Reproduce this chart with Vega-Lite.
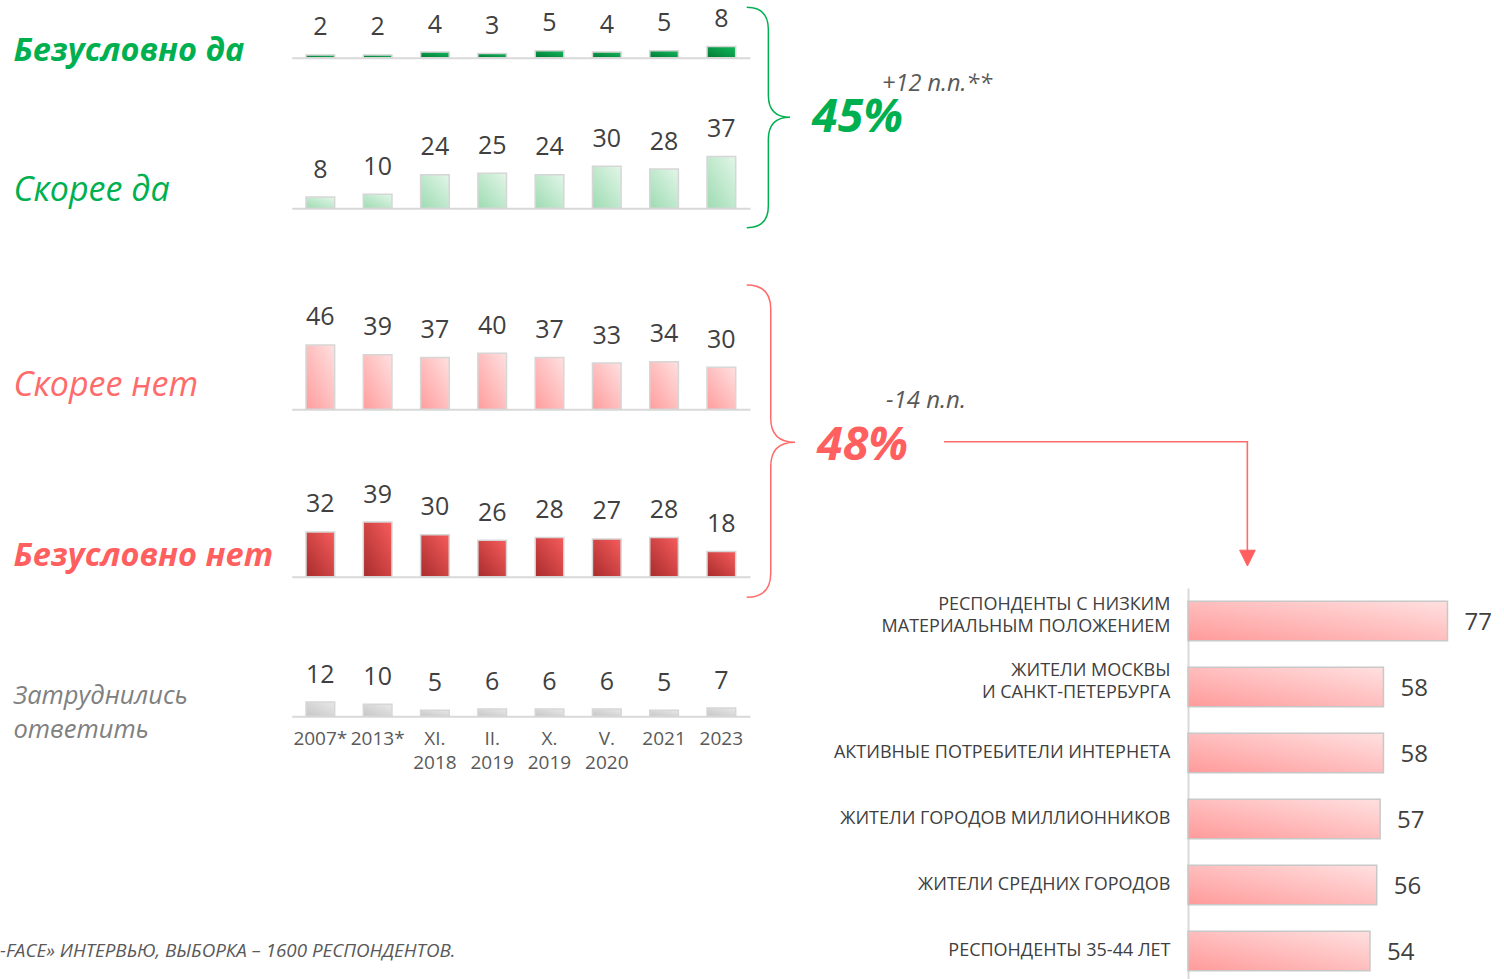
{
  "$schema": "https://vega.github.io/schema/vega-lite/v6.json",
  "width": 1504,
  "height": 979,
  "autosize": {"type": "none"},
  "padding": 0,
  "background": "white",
  "config": {"view": {"stroke": null}, "font": "Open Sans"},
  "title": {"text": "-FACE» ИНТЕРВЬЮ, ВЫБОРКА – 1600 РЕСПОНДЕНТОВ.", "orient": "bottom", "anchor": "start", "frame": "group", "offset": -22, "baseline": "alphabetic", "font": "Open Sans", "fontSize": 18.8, "fontStyle": "italic", "fontWeight": "normal", "color": "#595959"},
  "datasets": {
    "survey": [
      {"answer": "Безусловно да", "period": "2007*", "value": 2},
      {"answer": "Безусловно да", "period": "2013*", "value": 2},
      {"answer": "Безусловно да", "period": "XI. 2018", "value": 4},
      {"answer": "Безусловно да", "period": "II. 2019", "value": 3},
      {"answer": "Безусловно да", "period": "X. 2019", "value": 5},
      {"answer": "Безусловно да", "period": "V. 2020", "value": 4},
      {"answer": "Безусловно да", "period": "2021", "value": 5},
      {"answer": "Безусловно да", "period": "2023", "value": 8},
      {"answer": "Скорее да", "period": "2007*", "value": 8},
      {"answer": "Скорее да", "period": "2013*", "value": 10},
      {"answer": "Скорее да", "period": "XI. 2018", "value": 24},
      {"answer": "Скорее да", "period": "II. 2019", "value": 25},
      {"answer": "Скорее да", "period": "X. 2019", "value": 24},
      {"answer": "Скорее да", "period": "V. 2020", "value": 30},
      {"answer": "Скорее да", "period": "2021", "value": 28},
      {"answer": "Скорее да", "period": "2023", "value": 37},
      {"answer": "Скорее нет", "period": "2007*", "value": 46},
      {"answer": "Скорее нет", "period": "2013*", "value": 39},
      {"answer": "Скорее нет", "period": "XI. 2018", "value": 37},
      {"answer": "Скорее нет", "period": "II. 2019", "value": 40},
      {"answer": "Скорее нет", "period": "X. 2019", "value": 37},
      {"answer": "Скорее нет", "period": "V. 2020", "value": 33},
      {"answer": "Скорее нет", "period": "2021", "value": 34},
      {"answer": "Скорее нет", "period": "2023", "value": 30},
      {"answer": "Безусловно нет", "period": "2007*", "value": 32},
      {"answer": "Безусловно нет", "period": "2013*", "value": 39},
      {"answer": "Безусловно нет", "period": "XI. 2018", "value": 30},
      {"answer": "Безусловно нет", "period": "II. 2019", "value": 26},
      {"answer": "Безусловно нет", "period": "X. 2019", "value": 28},
      {"answer": "Безусловно нет", "period": "V. 2020", "value": 27},
      {"answer": "Безусловно нет", "period": "2021", "value": 28},
      {"answer": "Безусловно нет", "period": "2023", "value": 18},
      {"answer": "Затруднились ответить", "period": "2007*", "value": 12},
      {"answer": "Затруднились ответить", "period": "2013*", "value": 10},
      {"answer": "Затруднились ответить", "period": "XI. 2018", "value": 5},
      {"answer": "Затруднились ответить", "period": "II. 2019", "value": 6},
      {"answer": "Затруднились ответить", "period": "X. 2019", "value": 6},
      {"answer": "Затруднились ответить", "period": "V. 2020", "value": 6},
      {"answer": "Затруднились ответить", "period": "2021", "value": 5},
      {"answer": "Затруднились ответить", "period": "2023", "value": 7}
    ],
    "totals": [
      {"group": "Да", "total": "45%", "change": "+12 п.п.**"},
      {"group": "Нет", "total": "48%", "change": "-14 п.п."}
    ],
    "groups": [
      {"group": "Респонденты с низким\nматериальным положением", "share": 77},
      {"group": "Жители Москвы\nи Санкт-Петербурга", "share": 58},
      {"group": "Активные потребители интернета", "share": 58},
      {"group": "Жители городов миллионников", "share": 57},
      {"group": "Жители средних городов", "share": 56},
      {"group": "Респонденты 35-44 лет", "share": 54}
    ]
  },
  "resolve": {"scale": {"x": "independent", "y": "independent"}, "axis": {"x": "independent", "y": "independent"}},
  "layer": [
    {
      "layer": [
        {"data": {"name": "survey"}, "transform": [{"filter": "datum.answer === 'Безусловно да'"}],
         "mark": {"type": "bar", "fill": {"gradient": "linear", "x1": 1, "y1": 0, "x2": 0, "y2": 1, "stops": [{"offset": 0, "color": "#14b85c"}, {"offset": 1, "color": "#007a35"}]}, "stroke": "#d6d6d6", "strokeWidth": 1.5},
         "encoding": {
           "x": {"field": "period", "type": "ordinal", "scale": {"domain": ["2007*", "2013*", "XI. 2018", "II. 2019", "X. 2019", "V. 2020", "2021", "2023"], "range": [291.7, 750], "paddingInner": 0.5, "paddingOuter": 0.25},
             "axis": {"orient": "bottom", "offset": -921.3, "labels": false, "ticks": false, "tickSize": 0, "grid": false, "title": null, "domainColor": "#d9d9d9", "domainWidth": 2}},
           "y": {"field": "value", "type": "quantitative", "scale": {"domain": [0, 50], "range": [57.7, -12.3], "nice": false, "zero": true},
             "axis": {"orient": "left", "domain": false, "ticks": false, "labels": false, "grid": false, "title": "Безусловно да", "titleAngle": 0, "titleAlign": "left", "titleBaseline": "alphabetic", "titleX": 13, "titleY": 60, "titleFont": "Open Sans", "titleFontSize": 32.5, "titleFontWeight": "bold", "titleFontStyle": "italic", "titleColor": "#00b050"}}
         }},
        {"data": {"name": "survey"}, "transform": [{"filter": "datum.answer === 'Безусловно да'"}],
         "mark": {"type": "text", "dy": -19.5, "baseline": "alphabetic", "fontSize": 25, "font": "Open Sans", "fill": "#404040"},
         "encoding": {"x": {"field": "period", "type": "ordinal"}, "y": {"field": "value", "type": "quantitative"}, "text": {"field": "value", "type": "quantitative"}}}
      ]
    },
    {
      "layer": [
        {"data": {"name": "survey"}, "transform": [{"filter": "datum.answer === 'Скорее да'"}],
         "mark": {"type": "bar", "fill": {"gradient": "linear", "x1": 1, "y1": 0, "x2": 0, "y2": 1, "stops": [{"offset": 0, "color": "#e2f6e8"}, {"offset": 1, "color": "#9edbb2"}]}, "stroke": "#d6d6d6", "strokeWidth": 1.5},
         "encoding": {
           "x": {"field": "period", "type": "ordinal", "scale": {"domain": ["2007*", "2013*", "XI. 2018", "II. 2019", "X. 2019", "V. 2020", "2021", "2023"], "range": [291.7, 750], "paddingInner": 0.5, "paddingOuter": 0.25},
             "axis": {"orient": "bottom", "offset": -770.7, "labels": false, "ticks": false, "tickSize": 0, "grid": false, "title": null, "domainColor": "#d9d9d9", "domainWidth": 2}},
           "y": {"field": "value", "type": "quantitative", "scale": {"domain": [0, 50], "range": [208.3, 138.3], "nice": false, "zero": true},
             "axis": {"orient": "left", "domain": false, "ticks": false, "labels": false, "grid": false, "title": "Скорее да", "titleAngle": 0, "titleAlign": "left", "titleBaseline": "alphabetic", "titleX": 13, "titleY": 200, "titleFont": "Open Sans", "titleFontSize": 34, "titleFontWeight": "normal", "titleFontStyle": "italic", "titleColor": "#00b050"}}
         }},
        {"data": {"name": "survey"}, "transform": [{"filter": "datum.answer === 'Скорее да'"}],
         "mark": {"type": "text", "dy": -19.5, "baseline": "alphabetic", "fontSize": 25, "font": "Open Sans", "fill": "#404040"},
         "encoding": {"x": {"field": "period", "type": "ordinal"}, "y": {"field": "value", "type": "quantitative"}, "text": {"field": "value", "type": "quantitative"}}},
        {"data": {"name": "totals"}, "transform": [{"filter": "datum.group === 'Да'"}],
         "mark": {"type": "point", "shape": "M25.4,-201 Q47,-201 47,-179 L47,-113 Q47,-91 68.7,-91 Q47,-91 47,-69 L47,-2.6 Q47,19.4 25.4,19.4", "size": 4, "filled": false, "stroke": "#00b050", "strokeWidth": 1.5, "opacity": 1},
         "encoding": {"x": {"datum": "2023", "type": "ordinal"}, "y": {"datum": 0, "type": "quantitative"}}},
        {"data": {"name": "totals"}, "transform": [{"filter": "datum.group === 'Да'"}],
         "mark": {"type": "text", "align": "left", "baseline": "alphabetic", "dx": 90.7, "dy": -76.3, "fontSize": 46.5, "fontWeight": "bold", "fontStyle": "italic", "font": "Open Sans", "fill": "#00b050"},
         "encoding": {"x": {"datum": "2023", "type": "ordinal"}, "y": {"datum": 0, "type": "quantitative"}, "text": {"field": "total", "type": "nominal"}}},
        {"data": {"name": "totals"}, "transform": [{"filter": "datum.group === 'Да'"}],
         "mark": {"type": "text", "align": "left", "baseline": "alphabetic", "dx": 160.7, "dy": -117.6, "fontSize": 23.5, "fontStyle": "italic", "font": "Open Sans", "fill": "#595959"},
         "encoding": {"x": {"datum": "2023", "type": "ordinal"}, "y": {"datum": 0, "type": "quantitative"}, "text": {"field": "change", "type": "nominal"}}}
      ]
    },
    {
      "layer": [
        {"data": {"name": "survey"}, "transform": [{"filter": "datum.answer === 'Скорее нет'"}],
         "mark": {"type": "bar", "fill": {"gradient": "linear", "x1": 1, "y1": 0, "x2": 0, "y2": 1, "stops": [{"offset": 0, "color": "#ffe0e0"}, {"offset": 1, "color": "#ff9d9d"}]}, "stroke": "#d6d6d6", "strokeWidth": 1.5},
         "encoding": {
           "x": {"field": "period", "type": "ordinal", "scale": {"domain": ["2007*", "2013*", "XI. 2018", "II. 2019", "X. 2019", "V. 2020", "2021", "2023"], "range": [291.7, 750], "paddingInner": 0.5, "paddingOuter": 0.25},
             "axis": {"orient": "bottom", "offset": -569.7, "labels": false, "ticks": false, "tickSize": 0, "grid": false, "title": null, "domainColor": "#d9d9d9", "domainWidth": 2}},
           "y": {"field": "value", "type": "quantitative", "scale": {"domain": [0, 50], "range": [409.3, 339.3], "nice": false, "zero": true},
             "axis": {"orient": "left", "domain": false, "ticks": false, "labels": false, "grid": false, "title": "Скорее нет", "titleAngle": 0, "titleAlign": "left", "titleBaseline": "alphabetic", "titleX": 13, "titleY": 395, "titleFont": "Open Sans", "titleFontSize": 34, "titleFontWeight": "normal", "titleFontStyle": "italic", "titleColor": "#ff6b6b"}}
         }},
        {"data": {"name": "survey"}, "transform": [{"filter": "datum.answer === 'Скорее нет'"}],
         "mark": {"type": "text", "dy": -19.5, "baseline": "alphabetic", "fontSize": 25, "font": "Open Sans", "fill": "#404040"},
         "encoding": {"x": {"field": "period", "type": "ordinal"}, "y": {"field": "value", "type": "quantitative"}, "text": {"field": "value", "type": "quantitative"}}}
      ]
    },
    {
      "layer": [
        {"data": {"name": "survey"}, "transform": [{"filter": "datum.answer === 'Безусловно нет'"}],
         "mark": {"type": "bar", "fill": {"gradient": "linear", "x1": 1, "y1": 0, "x2": 0, "y2": 1, "stops": [{"offset": 0, "color": "#f75c5c"}, {"offset": 1, "color": "#a82c2c"}]}, "stroke": "#d6d6d6", "strokeWidth": 1.5},
         "encoding": {
           "x": {"field": "period", "type": "ordinal", "scale": {"domain": ["2007*", "2013*", "XI. 2018", "II. 2019", "X. 2019", "V. 2020", "2021", "2023"], "range": [291.7, 750], "paddingInner": 0.5, "paddingOuter": 0.25},
             "axis": {"orient": "bottom", "offset": -402.3, "labels": false, "ticks": false, "tickSize": 0, "grid": false, "title": null, "domainColor": "#d9d9d9", "domainWidth": 2}},
           "y": {"field": "value", "type": "quantitative", "scale": {"domain": [0, 50], "range": [576.7, 506.7], "nice": false, "zero": true},
             "axis": {"orient": "left", "domain": false, "ticks": false, "labels": false, "grid": false, "title": "Безусловно нет", "titleAngle": 0, "titleAlign": "left", "titleBaseline": "alphabetic", "titleX": 13, "titleY": 565, "titleFont": "Open Sans", "titleFontSize": 32.5, "titleFontWeight": "bold", "titleFontStyle": "italic", "titleColor": "#ff5f5f"}}
         }},
        {"data": {"name": "survey"}, "transform": [{"filter": "datum.answer === 'Безусловно нет'"}],
         "mark": {"type": "text", "dy": -19.5, "baseline": "alphabetic", "fontSize": 25, "font": "Open Sans", "fill": "#404040"},
         "encoding": {"x": {"field": "period", "type": "ordinal"}, "y": {"field": "value", "type": "quantitative"}, "text": {"field": "value", "type": "quantitative"}}},
        {"data": {"name": "totals"}, "transform": [{"filter": "datum.group === 'Нет'"}],
         "mark": {"type": "point", "shape": "M25.4,-291.7 Q49.4,-291.7 49.4,-267.7 L49.4,-158.4 Q49.4,-134.4 73.7,-134.4 Q49.4,-134.4 49.4,-110.4 L49.4,-3.4 Q49.4,20.6 25.4,20.6", "size": 4, "filled": false, "stroke": "#ff6b6b", "strokeWidth": 1.5, "opacity": 1},
         "encoding": {"x": {"datum": "2023", "type": "ordinal"}, "y": {"datum": 0, "type": "quantitative"}}},
        {"data": {"name": "totals"}, "transform": [{"filter": "datum.group === 'Нет'"}],
         "mark": {"type": "point", "shape": "M222.7,-135 L526,-135 L526,-26", "size": 4, "filled": false, "stroke": "#ff6b6b", "strokeWidth": 1.6, "opacity": 1},
         "encoding": {"x": {"datum": "2023", "type": "ordinal"}, "y": {"datum": 0, "type": "quantitative"}}},
        {"data": {"name": "totals"}, "transform": [{"filter": "datum.group === 'Нет'"}],
         "mark": {"type": "point", "shape": "M518.3,-26.5 L533.9,-26.5 L526.1,-10.7 Z", "size": 4, "filled": true, "fill": "#ff5f5f", "stroke": "#ff5f5f", "strokeWidth": 1, "opacity": 1},
         "encoding": {"x": {"datum": "2023", "type": "ordinal"}, "y": {"datum": 0, "type": "quantitative"}}},
        {"data": {"name": "totals"}, "transform": [{"filter": "datum.group === 'Нет'"}],
         "mark": {"type": "text", "align": "left", "baseline": "alphabetic", "dx": 95.7, "dy": -116.7, "fontSize": 46.5, "fontWeight": "bold", "fontStyle": "italic", "font": "Open Sans", "fill": "#ff5f5f"},
         "encoding": {"x": {"datum": "2023", "type": "ordinal"}, "y": {"datum": 0, "type": "quantitative"}, "text": {"field": "total", "type": "nominal"}}},
        {"data": {"name": "totals"}, "transform": [{"filter": "datum.group === 'Нет'"}],
         "mark": {"type": "text", "align": "left", "baseline": "alphabetic", "dx": 164.7, "dy": -168.4, "fontSize": 24, "fontStyle": "italic", "font": "Open Sans", "fill": "#595959"},
         "encoding": {"x": {"datum": "2023", "type": "ordinal"}, "y": {"datum": 0, "type": "quantitative"}, "text": {"field": "change", "type": "nominal"}}}
      ]
    },
    {
      "layer": [
        {"data": {"name": "survey"}, "transform": [{"filter": "datum.answer === 'Затруднились ответить'"}],
         "mark": {"type": "bar", "fill": {"gradient": "linear", "x1": 1, "y1": 0, "x2": 0, "y2": 1, "stops": [{"offset": 0, "color": "#e8e8e8"}, {"offset": 1, "color": "#c6c6c6"}]}, "stroke": "#d6d6d6", "strokeWidth": 1.5},
         "encoding": {
           "x": {"field": "period", "type": "ordinal", "scale": {"domain": ["2007*", "2013*", "XI. 2018", "II. 2019", "X. 2019", "V. 2020", "2021", "2023"], "range": [291.7, 750], "paddingInner": 0.5, "paddingOuter": 0.25},
             "axis": {"orient": "bottom", "offset": -262.7, "ticks": false, "tickSize": 0, "grid": false, "title": null, "domainColor": "#d9d9d9", "domainWidth": 2, "labelAngle": 0, "labelPadding": 13, "labelBaseline": "top", "labelOverlap": false, "labelExpr": "split(datum.value, ' ')", "labelFont": "Open Sans", "labelFontSize": 19, "labelColor": "#595959", "labelLineHeight": 24}},
           "y": {"field": "value", "type": "quantitative", "scale": {"domain": [0, 50], "range": [716.3, 656.3], "nice": false, "zero": true},
             "axis": {"orient": "left", "domain": false, "ticks": false, "labels": false, "grid": false, "title": ["Затруднились", "ответить"], "titleAngle": 0, "titleAlign": "left", "titleBaseline": "alphabetic", "titleX": 13, "titleY": 703, "titleLineHeight": 34, "titleFont": "Open Sans", "titleFontSize": 25.5, "titleFontWeight": "normal", "titleFontStyle": "italic", "titleColor": "#808080"}}
         }},
        {"data": {"name": "survey"}, "transform": [{"filter": "datum.answer === 'Затруднились ответить'"}],
         "mark": {"type": "text", "dy": -19, "baseline": "alphabetic", "fontSize": 25, "font": "Open Sans", "fill": "#404040"},
         "encoding": {"x": {"field": "period", "type": "ordinal"}, "y": {"field": "value", "type": "quantitative"}, "text": {"field": "value", "type": "quantitative"}}}
      ]
    },
    {
      "data": {"name": "groups"},
      "encoding": {
        "y": {"field": "group", "type": "nominal", "sort": null, "scale": {"range": [588, 984], "paddingInner": 0.4, "paddingOuter": 0.2},
          "axis": {"orient": "left", "offset": -1188, "title": null, "grid": false, "ticks": false, "tickSize": 0, "domainColor": "#d9d9d9", "domainWidth": 2, "labelPadding": 18, "labelLimit": 600, "labelFont": "Open Sans", "labelFontSize": 18, "labelColor": "#404040", "labelLineHeight": 22, "labelExpr": "split(upper(datum.value), '\\n')",
            "labelOffset": {"condition": {"test": "indexof(datum.value, '\\n') >= 0", "value": -16}, "value": 0}}},
        "x": {"field": "share", "type": "quantitative", "scale": {"domain": [0, 80], "range": [1188, 1457.6], "nice": false}, "axis": null}
      },
      "layer": [
        {"mark": {"type": "bar", "fill": {"gradient": "linear", "x1": 1, "y1": 0, "x2": 0, "y2": 1, "stops": [{"offset": 0, "color": "#ffe0e0"}, {"offset": 1, "color": "#ff9a9a"}]}, "stroke": "#c8c8c8", "strokeWidth": 1.5}},
        {"mark": {"type": "text", "align": "left", "baseline": "middle", "dx": 17, "dy": 2, "fontSize": 24, "font": "Open Sans", "fill": "#404040"},
         "encoding": {"text": {"field": "share", "type": "quantitative"}}}
      ]
    }
  ]
}
